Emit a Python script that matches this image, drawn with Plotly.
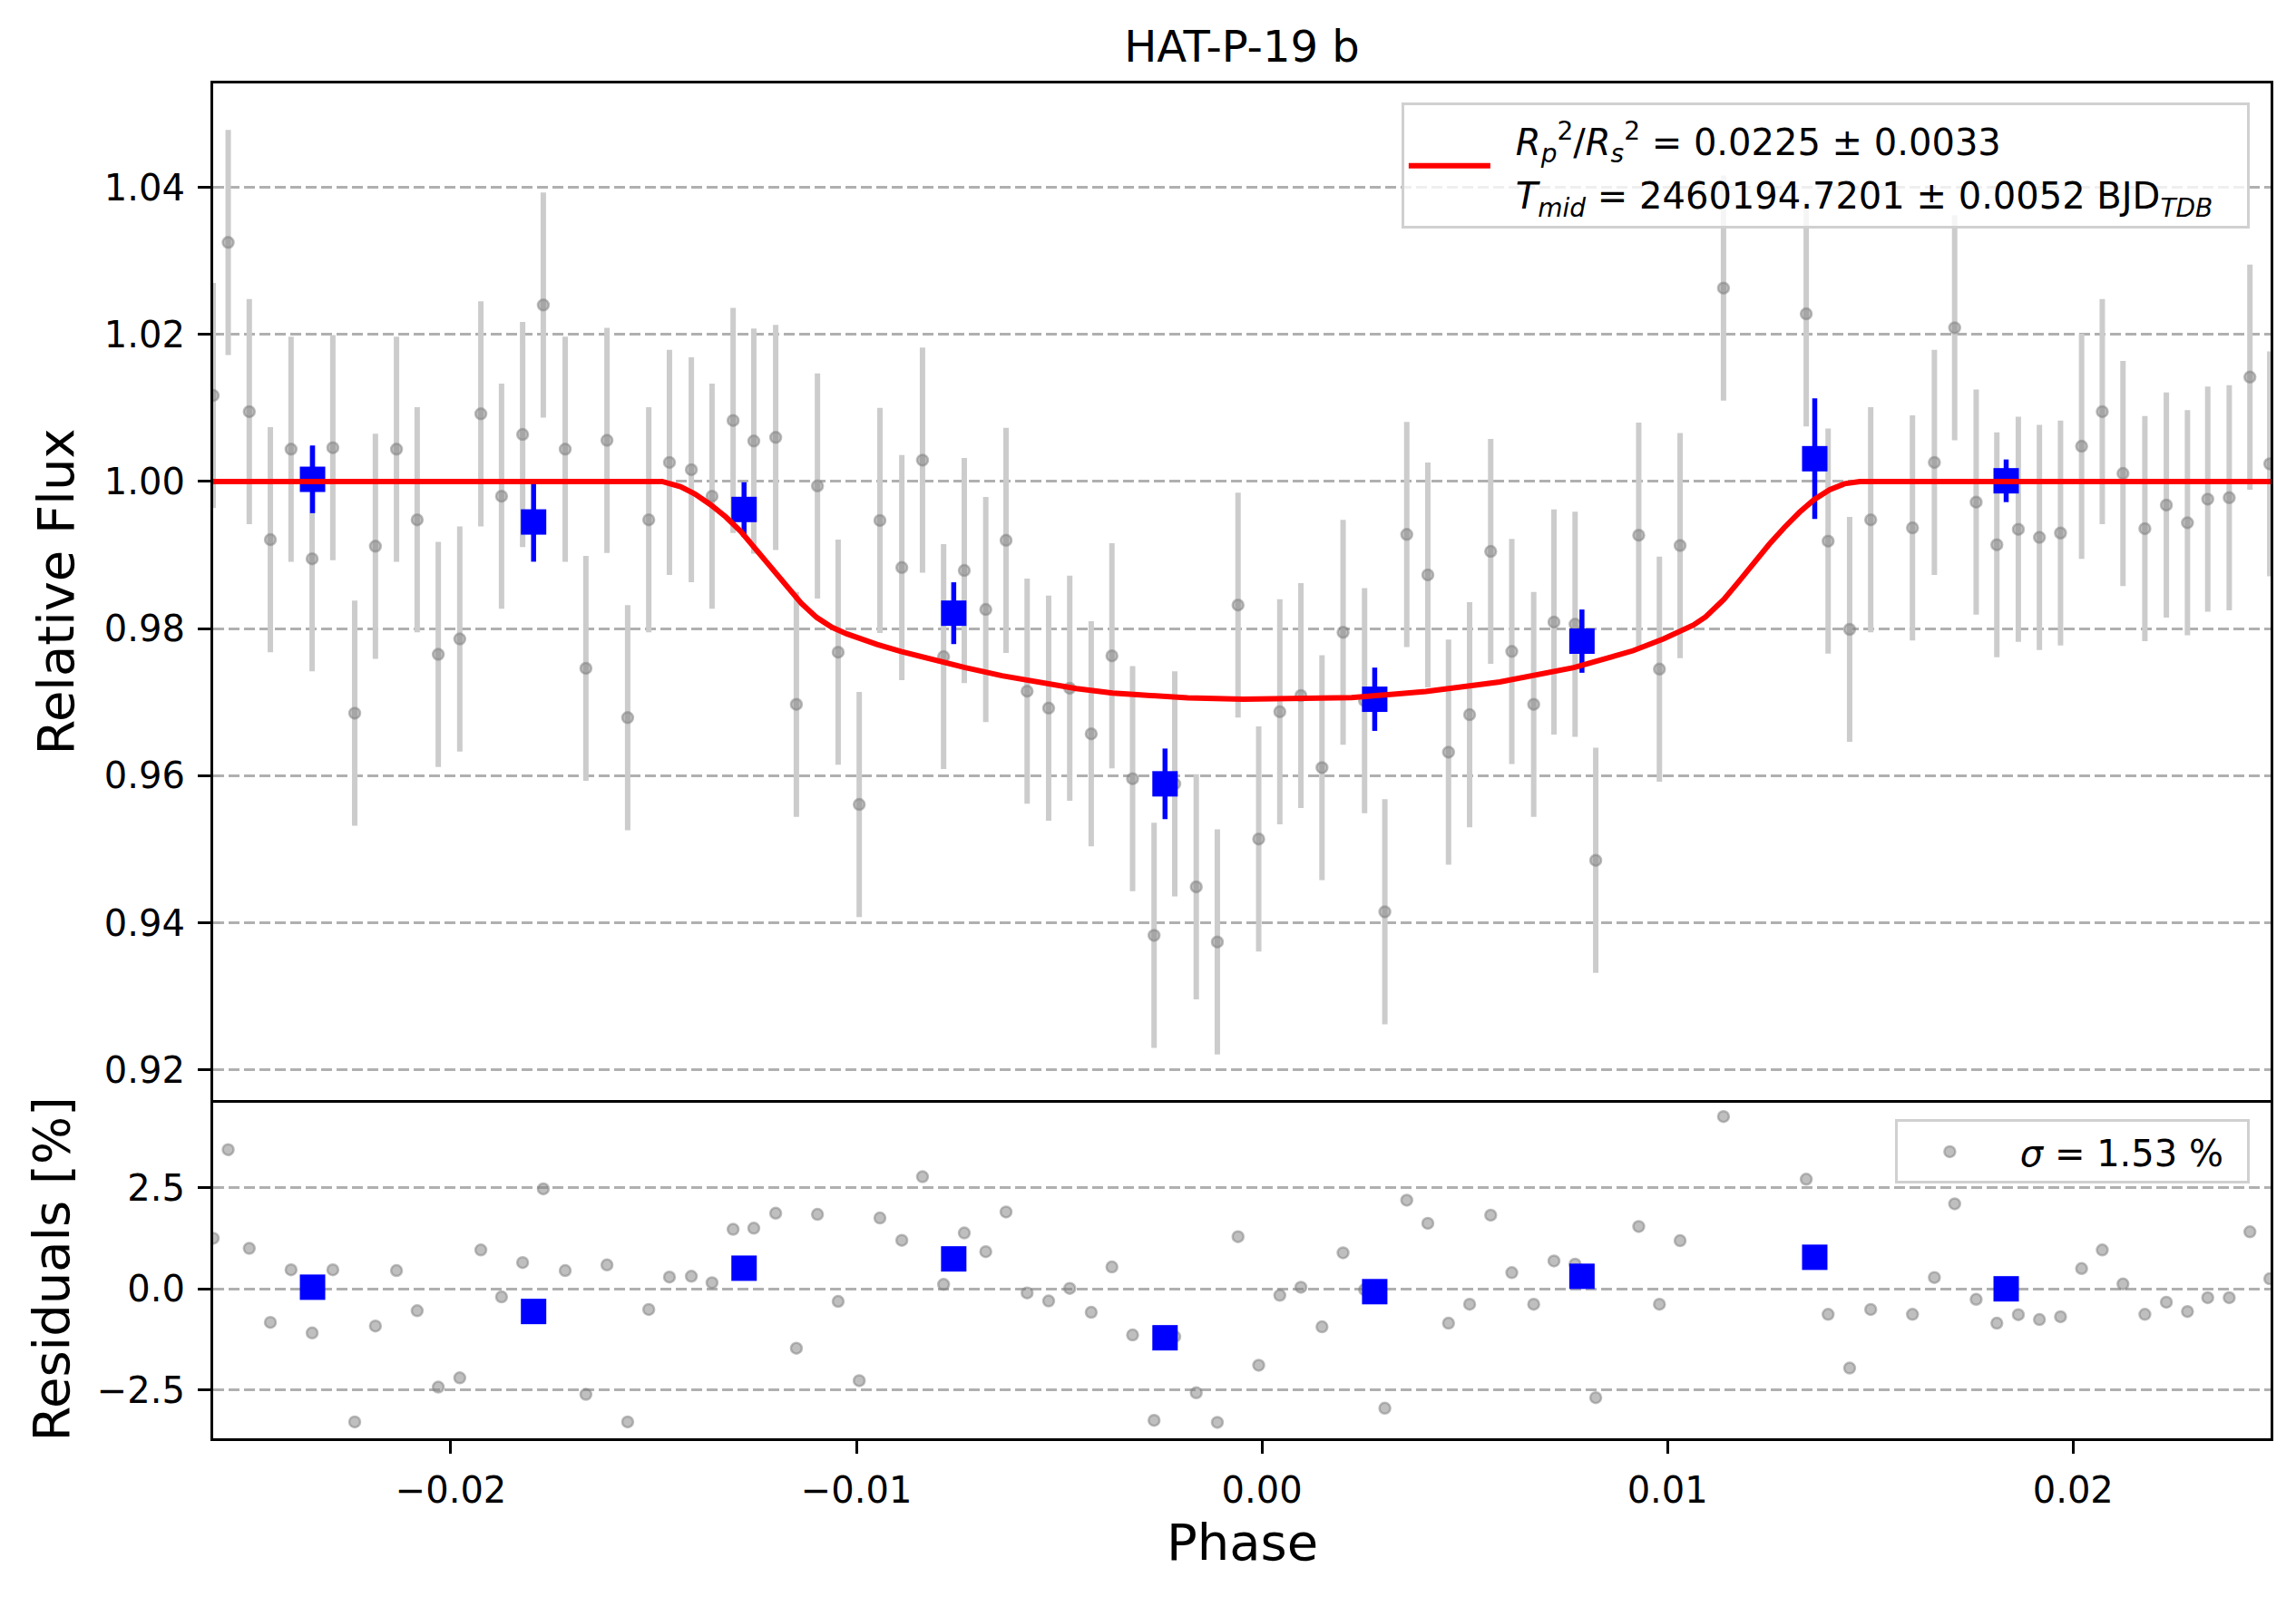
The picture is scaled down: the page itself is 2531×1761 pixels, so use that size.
import plotly.graph_objects as go

# ---- data ----
phase = [-0.02586, -0.02549, -0.02497, -0.02445, -0.02394, -0.02342, -0.02291, -0.02237, -0.02186, -0.02134,
         -0.02083, -0.02031, -0.01978, -0.01926, -0.01875, -0.01823, -0.01772, -0.01718, -0.01667, -0.01615,
         -0.01564, -0.01512, -0.01461, -0.01407, -0.01356, -0.01304, -0.01253, -0.01199, -0.01148, -0.01096,
         -0.01045, -0.00993, -0.00942, -0.00888, -0.00837, -0.00785, -0.00734, -0.00681, -0.00631, -0.00579,
         -0.00526, -0.00474, -0.00421, -0.00370, -0.00319, -0.00266, -0.00215, -0.00162, -0.00110, -0.00059,
         -0.00008, 0.00044, 0.00096, 0.00148, 0.00200, 0.00253, 0.00303, 0.00357, 0.00409, 0.00460,
         0.00512, 0.00564, 0.00616, 0.00670, 0.00720, 0.00772, 0.00823, 0.00929, 0.00980, 0.01031,
         0.01138, 0.01342, 0.01396, 0.01449, 0.01501, 0.01604, 0.01658, 0.01708, 0.01761, 0.01812,
         0.01865, 0.01917, 0.01969, 0.02021, 0.02072, 0.02123, 0.02177, 0.02230, 0.02282, 0.02332,
         0.02385, 0.02436, 0.02485]

flux = [1.0117, 1.0325, 1.0095, 0.9921, 1.0044, 0.9895, 1.0046, 0.9685, 0.9912, 1.0044,
        0.9948, 0.9765, 0.9786, 1.0092, 0.9980, 1.0064, 1.0240, 1.0044, 0.9746, 1.0056,
        0.9679, 0.9948, 1.0026, 1.0016, 0.9980, 1.0083, 1.0055, 1.0060, 0.9697, 0.9994,
        0.9768, 0.9561, 0.9947, 0.9883, 1.0029, 0.9762, 0.9879, 0.9826, 0.9920, 0.9715,
        0.9692, 0.9719, 0.9657, 0.9763, 0.9596, 0.9383, 0.9589, 0.9449, 0.9374, 0.9832,
        0.9514, 0.9687, 0.9709, 0.9611, 0.9795, 0.9702, 0.9415, 0.9928, 0.9873, 0.9632,
        0.9683, 0.9905, 0.9769, 0.9697, 0.9809, 0.9806, 0.9485, 0.9927, 0.9745, 0.9913,
        1.0263, 1.0228, 0.9919, 0.9799, 0.9948, 0.9937, 1.0026, 1.0209, 0.9972, 0.9914,
        0.9935, 0.9924, 0.9930, 1.0048, 1.0095, 1.0011, 0.9936, 0.9968, 0.9944, 0.9976,
        0.9978, 1.0142, 1.0024]

flux_err = 0.0153

resid = [1.25, 3.44, 1.00, -0.83, 0.47, -1.09, 0.47, -3.29, -0.92, 0.45,
         -0.54, -2.43, -2.20, 0.96, -0.20, 0.65, 2.47, 0.45, -2.61, 0.59,
         -3.29, -0.51, 0.29, 0.31, 0.15, 1.47, 1.50, 1.87, -1.47, 1.84,
         -0.31, -2.27, 1.75, 1.20, 2.77, 0.11, 1.38, 0.92, 1.90, -0.10,
         -0.30, 0.01, -0.58, 0.54, -1.14, -3.25, -1.18, -2.57, -3.30, 1.29,
         -1.89, -0.16, 0.04, -0.94, 0.89, -0.02, -2.95, 2.19, 1.62, -0.85,
         -0.38, 1.82, 0.40, -0.38, 0.69, 0.61, -2.69, 1.54, -0.38, 1.19,
         4.26, 2.71, -0.63, -1.96, -0.51, -0.63, 0.28, 2.10, -0.26, -0.85,
         -0.64, -0.76, -0.69, 0.50, 0.96, 0.12, -0.63, -0.33, -0.56, -0.22,
         -0.22, 1.41, 0.25]

bin_phase = [-0.02341, -0.01796, -0.01277, -0.00760, -0.00239, 0.00278, 0.00789, 0.01363, 0.01835]
bin_flux = [1.0003, 0.9945, 0.9962, 0.9821, 0.9589, 0.9704, 0.9783, 1.0031, 1.0001]
bin_err = [0.0046, 0.0054, 0.0037, 0.0042, 0.0048, 0.0043, 0.0043, 0.0082, 0.0029]
bin_resid = [0.04, -0.56, 0.51, 0.74, -1.21, -0.07, 0.31, 0.78, 0.00]

model_phase = [-0.02586, -0.01479, -0.01434, -0.01397, -0.01359, -0.01322, -0.01285, -0.01248, -0.01210,
               -0.01173, -0.01136, -0.01098, -0.01061, -0.01024, -0.00987, -0.00949, -0.00890, -0.00823,
               -0.00732, -0.00641, -0.00549, -0.00458, -0.00368, -0.00275, -0.00183, -0.00047, 0.00089,
               0.00221, 0.00404, 0.00586, 0.00769, 0.00915, 0.00990, 0.01064, 0.01094, 0.01139, 0.01176,
               0.01213, 0.01251, 0.01288, 0.01325, 0.01362, 0.01400, 0.01437, 0.01474, 0.02487]
model_flux = [1.0, 1.0, 0.9993, 0.99827, 0.99683, 0.99519, 0.99321, 0.99086, 0.98840,
              0.98593, 0.98346, 0.98152, 0.98020, 0.97930, 0.97850, 0.97785, 0.97690, 0.97590,
              0.97470, 0.97360, 0.97265, 0.97185, 0.97125, 0.97085, 0.97058, 0.97040, 0.97045,
              0.97063, 0.97145, 0.97276, 0.97470, 0.97700, 0.97860, 0.98050, 0.98160, 0.98399, 0.98642,
              0.98901, 0.99148, 0.99374, 0.99580, 0.99757, 0.99889, 0.99971, 1.0, 1.0]

xticks = [-0.02, -0.01, 0.0, 0.01, 0.02]
xticktext = ["\u22120.02", "\u22120.01", "0.00", "0.01", "0.02"]
yticks = [0.92, 0.94, 0.96, 0.98, 1.00, 1.02, 1.04]
yticktext = ["0.92", "0.94", "0.96", "0.98", "1.00", "1.02", "1.04"]
rticks = [-2.5, 0.0, 2.5]
rticktext = ["\u22122.5", "0.0", "2.5"]

label_rp = "<i>R</i><sub><i>p</i></sub><sup>2</sup>/<i>R</i><sub><i>s</i></sub><sup>2</sup> = 0.0225 \u00b1 0.0033"
label_tm = "<i>T</i><sub><i>mid</i></sub> = 2460194.7201 \u00b1 0.0052 BJD<sub><i>TDB</i></sub>"
label_sigma = "<i>\u03c3</i> = 1.53 %"

FONT = "DejaVu Sans"
grey_pt = "rgba(128,128,128,0.5)"


def sized(txt, px):
    return '<span style="font-size:%dpx">%s</span>' % (px, txt)


fig = go.Figure()

# raw points with error bars
fig.add_trace(go.Scatter(
    x=phase, y=flux, mode="markers", showlegend=False,
    marker=dict(size=12, color=grey_pt, line=dict(color=grey_pt, width=2.5)),
    error_y=dict(type="constant", value=flux_err, color="rgb(204,204,204)", thickness=6, width=0),
    xaxis="x", yaxis="y"))

# binned points
fig.add_trace(go.Scatter(
    x=bin_phase, y=bin_flux, mode="markers", showlegend=False,
    marker=dict(symbol="square", size=28, color="#0000ff"),
    error_y=dict(type="data", array=bin_err, color="#0000ff", thickness=5.5, width=0),
    xaxis="x", yaxis="y"))

# model
leg1 = "\u2002" + sized(label_rp, 40) + "\u2002\u2009<br>\u2002" + sized(label_tm, 40) + "\u2002\u2009"
fig.add_trace(go.Scatter(
    x=model_phase, y=model_flux, mode="lines", name=leg1,
    line=dict(color="#ff0000", width=6),
    legend="legend", xaxis="x", yaxis="y"))

# residuals
fig.add_trace(go.Scatter(
    x=phase, y=resid, mode="markers", name="\u2002" + label_sigma + "\u2002",
    marker=dict(size=12, color=grey_pt, line=dict(color=grey_pt, width=2.5)),
    legend="legend2", xaxis="x2", yaxis="y2"))

fig.add_trace(go.Scatter(
    x=bin_phase, y=bin_resid, mode="markers", showlegend=False,
    marker=dict(symbol="square", size=28, color="#0000ff"),
    xaxis="x2", yaxis="y2"))

split = 0.2497
xr = [-0.02586, 0.02487]
axis_common = dict(showline=True, linecolor="black", linewidth=3.2, zeroline=False,
                   tickfont=dict(family=FONT, size=40, color="black"), ticklen=14, tickwidth=3.2,
                   tickcolor="black")
grid = dict(showgrid=True, gridcolor="#b0b0b0", gridwidth=2.8, griddash="12px,5px")

fig.update_layout(
    width=2531, height=1761,
    margin=dict(l=235, r=28, t=92, b=175),
    plot_bgcolor="white", paper_bgcolor="white",
    font=dict(family=FONT, size=40, color="black"),
    title=dict(text="HAT-P-19 b", x=0.5, xref="paper", xanchor="center",
               y=1 - 51 / 1761, yref="container", yanchor="middle",
               font=dict(family=FONT, size=48, color="black")),
    xaxis=dict(domain=[0, 1], anchor="y", range=xr, showticklabels=False, ticks="",
               showgrid=False, matches="x2", mirror=True, **axis_common),
    yaxis=dict(domain=[split, 1], anchor="x", range=[0.91592, 1.05412], tickvals=yticks,
               ticktext=yticktext, ticks="outside", ticklabelstandoff=6, mirror=True,
               **grid, **axis_common),
    xaxis2=dict(domain=[0, 1], anchor="y2", range=xr, tickvals=xticks, ticktext=xticktext,
                ticks="outside", showgrid=False, ticklabelstandoff=6, mirror=False, **axis_common),
    yaxis2=dict(domain=[0, split], anchor="x2", range=[-3.695, 4.668], tickvals=rticks,
                ticktext=rticktext, ticks="outside", ticklabelstandoff=6, mirror=True,
                **grid, **axis_common),
    legend=dict(x=0.9898, xanchor="right", y=0.9857, yanchor="top",
                bgcolor="rgba(255,255,255,0.8)", bordercolor="#d0d0d0", borderwidth=3,
                font=dict(family=FONT, size=46, color="black"), itemwidth=90, valign="middle"),
    legend2=dict(x=0.9898, xanchor="right", y=0.2353, yanchor="top",
                 bgcolor="rgba(255,255,255,0.8)", bordercolor="#d0d0d0", borderwidth=3,
                 font=dict(family=FONT, size=40, color="black"), itemwidth=105),
    annotations=[
        dict(text="Relative Flux", xref="paper", yref="paper", x=-0.0767, y=(split + 1) / 2,
             textangle=-90, showarrow=False, xanchor="center", yanchor="middle",
             font=dict(family=FONT, size=56, color="black")),
        dict(text="Residuals [%]", xref="paper", yref="paper", x=-0.0785, y=split / 2,
             textangle=-90, showarrow=False, xanchor="center", yanchor="middle",
             font=dict(family=FONT, size=56, color="black")),
        dict(text="Phase", xref="paper", yref="paper", x=0.5, y=-(1700 - 1585.6) / 1494,
             showarrow=False, xanchor="center", yanchor="middle",
             font=dict(family=FONT, size=56, color="black")),
    ],
)

fig.write_html("out.html", config={"displayModeBar": False},
               post_script="document.body.style.margin='0';document.body.style.overflow='hidden';")
